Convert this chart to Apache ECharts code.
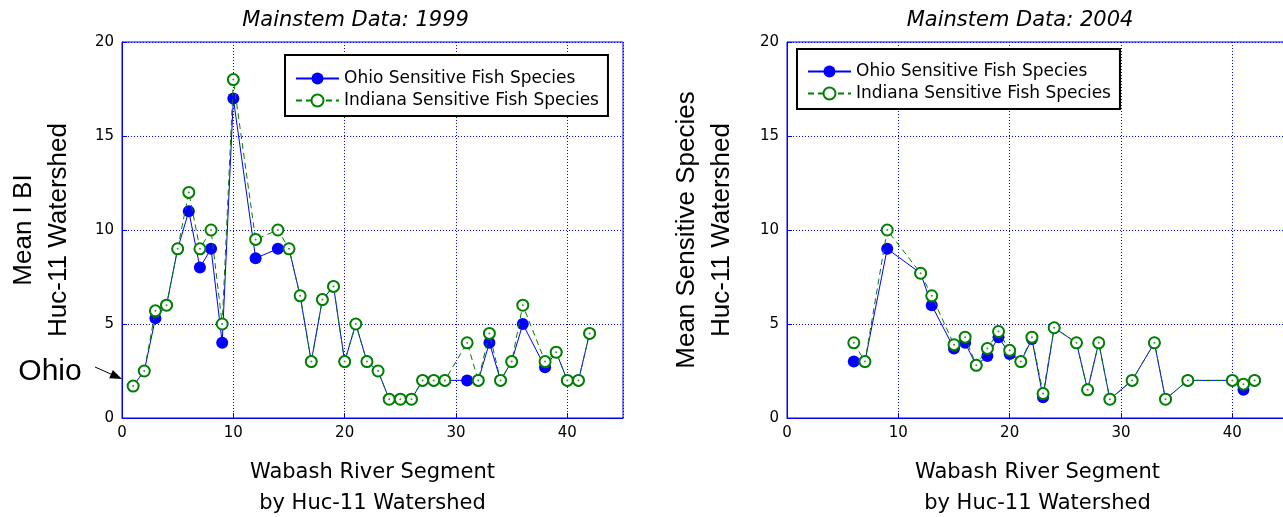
<!DOCTYPE html>
<html>
<head>
<meta charset="utf-8">
<script src="https://cdn.jsdelivr.net/npm/echarts@6/dist/echarts.min.js"></script>
<style>
  html, body { margin: 0; padding: 0; background: #fff; }
  #chart { width: 1283px; height: 517px; }
</style>
</head>
<body>
<div id="chart"></div>
<script>
// River segments sampled in each survey year and the mean counts per segment
const segments1999 = [1, 2, 3, 4, 5, 6, 7, 8, 9, 10, 12, 14, 15, 16, 17, 18, 19, 20, 21, 22, 23, 24, 25, 26, 27, 28, 29, 31, 32, 33, 34, 35, 36, 38, 39, 40, 41, 42];
const ohio1999     = [1.7, 2.5, 5.3, 6, 9, 11, 8, 9, 4, 17, 8.5, 9, 9, 6.5, 3, 6.3, 7, 3, 5, 3, 2.5, 1, 1, 1, 2, 2, 2, 2, 2, 4, 2, 3, 5, 2.7, 3.5, 2, 2, 4.5];
const indiana1999  = [1.7, 2.5, 5.7, 6, 9, 12, 9, 10, 5, 18, 9.5, 10, 9, 6.5, 3, 6.3, 7, 3, 5, 3, 2.5, 1, 1, 1, 2, 2, 2, 4, 2, 4.5, 2, 3, 6, 3, 3.5, 2, 2, 4.5];

const segments2004 = [6, 7, 9, 12, 13, 15, 16, 17, 18, 19, 20, 21, 22, 23, 24, 26, 27, 28, 29, 31, 33, 34, 36, 40, 41, 42];
const ohio2004     = [3, 3, 9, 7.7, 6, 3.7, 4.0, 2.8, 3.3, 4.3, 3.4, 3, 4.2, 1.1, 4.8, 4, 1.5, 4, 1, 2, 4, 1, 2, 2, 1.5, 2];
const indiana2004  = [4, 3, 10, 7.7, 6.5, 3.9, 4.3, 2.8, 3.7, 4.6, 3.6, 3, 4.3, 1.3, 4.8, 4, 1.5, 4, 1, 2, 4, 1, 2, 2, 1.8, 2];

const panelTitles = ['Mainstem Data: 1999', 'Mainstem Data: 2004'];
const yAxisNames  = ['Mean I BI\nHuc-11 Watershed', 'Mean Sensitive Species\nHuc-11 Watershed'];
const xAxisName   = 'Wabash River Segment\nby Huc-11 Watershed';
const seriesNames = ['Ohio Sensitive Fish Species', 'Indiana Sensitive Fish Species'];
const noteText    = 'Ohio';

const BLUE = '#0000ff';
const GREEN = '#008000';
const TICK_FONT = 'DejaVu Sans';

const zip = (xs, ys) => xs.map((x, i) => [x, ys[i]]);

const gridLefts = [122, 787];

function makeGrid(left) {
  return {
    left: left, top: 42, width: 501, height: 376,
    outerBoundsMode: 'none', containLabel: false,
    show: true, borderColor: BLUE, borderWidth: 1, backgroundColor: 'transparent'
  };
}

function makeXAxis(i) {
  return {
    type: 'value', gridIndex: i, min: 0, max: 45, interval: 10,
    axisLine: { show: true, lineStyle: { color: BLUE, width: 1 } },
    axisTick: { show: true, inside: true, length: 5, lineStyle: { color: BLUE } },
    axisLabel: { color: '#000', fontFamily: TICK_FONT, fontSize: 15, margin: 8, showMaxLabel: false },
    splitLine: { show: true, lineStyle: { color: BLUE, width: 1, type: [1, 2] } },
    name: xAxisName, nameLocation: 'middle', nameGap: 39,
    nameTextStyle: { color: '#000', fontFamily: TICK_FONT, fontSize: 21, lineHeight: 31 }
  };
}

function makeYAxis(i, gap) {
  return {
    type: 'value', gridIndex: i, min: 0, max: 20, interval: 5,
    axisLine: { show: true, lineStyle: { color: BLUE, width: 1 } },
    axisTick: { show: true, inside: true, length: 5, lineStyle: { color: BLUE } },
    axisLabel: { color: '#000', fontFamily: TICK_FONT, fontSize: 15, margin: 8 },
    splitLine: { show: true, lineStyle: { color: BLUE, width: 1, type: [1, 2] } },
    name: yAxisNames[i], nameLocation: 'middle', nameRotate: 90, nameGap: gap,
    nameTextStyle: { color: '#000', fontFamily: 'Liberation Sans', fontSize: 26, lineHeight: 35 }
  };
}

function ohioSeries(i, data) {
  return {
    name: seriesNames[0], type: 'line', xAxisIndex: i, yAxisIndex: i, data: data,
    symbol: 'circle', symbolSize: 12,
    lineStyle: { color: BLUE, width: 1 },
    itemStyle: { color: BLUE, borderWidth: 0 },
    emphasis: { disabled: true }, z: 2
  };
}

function indianaSeries(i, data) {
  return {
    name: seriesNames[1], type: 'line', xAxisIndex: i, yAxisIndex: i, data: data,
    symbol: 'emptyCircle', symbolSize: 11,
    lineStyle: { color: GREEN, width: 1, type: [6, 4] },
    itemStyle: { color: GREEN, borderColor: GREEN, borderWidth: 1 },
    emphasis: { disabled: true }, z: 3
  };
}

// centre dots inside the open Indiana markers
function indianaDots(i, data) {
  return {
    type: 'scatter', xAxisIndex: i, yAxisIndex: i, data: data,
    symbol: 'circle', symbolSize: 2, silent: true,
    itemStyle: { color: GREEN }, z: 4
  };
}

function makeLegend(left, top, padTop) {
  return {
    left: left, top: top, orient: 'vertical', data: seriesNames,
    padding: [padTop, 9, 7, 10], itemGap: 5, itemWidth: 43, itemHeight: 15,
    borderColor: '#000', borderWidth: 2, backgroundColor: '#fff',
    selectedMode: false,
    textStyle: { color: '#000', fontFamily: TICK_FONT, fontSize: 17 }
  };
}

// arrow from the "Ohio" note to the left axis
const arrowFrom = [95, 367];
const arrowTo = [122, 379];
const dx = arrowTo[0] - arrowFrom[0], dy = arrowTo[1] - arrowFrom[1];
const len = Math.hypot(dx, dy);
const ux = dx / len, uy = dy / len;
const headL = 12, headW = 4.5;
const bx = arrowTo[0] - headL * ux, by = arrowTo[1] - headL * uy;

const chart = echarts.init(document.getElementById('chart'), null, { renderer: 'canvas' });
const d1999o = zip(segments1999, ohio1999), d1999i = zip(segments1999, indiana1999);
const d2004o = zip(segments2004, ohio2004), d2004i = zip(segments2004, indiana2004);
chart.setOption({
  backgroundColor: '#fff',
  animation: false,
  grid: gridLefts.map(makeGrid),
  xAxis: [makeXAxis(0), makeXAxis(1)],
  yAxis: [makeYAxis(0, 46), makeYAxis(1, 48)],
  legend: [makeLegend(285, 55, 15), makeLegend(797, 49, 14)],
  series: [
    ohioSeries(0, d1999o),
    indianaSeries(0, d1999i),
    indianaDots(0, d1999i),
    ohioSeries(1, d2004o),
    indianaSeries(1, d2004i),
    indianaDots(1, d2004i)
  ],
  graphic: [
    { type: 'text', x: 355.5, y: 21,
      style: { text: panelTitles[0], font: 'oblique 21px "DejaVu Sans"', fill: '#000', align: 'center', verticalAlign: 'middle' } },
    { type: 'text', x: 1020, y: 21,
      style: { text: panelTitles[1], font: 'oblique 21px "DejaVu Sans"', fill: '#000', align: 'center', verticalAlign: 'middle' } },
    { type: 'text', x: 50, y: 372,
      style: { text: noteText, font: '30px "Liberation Sans"', fill: '#000', align: 'center', verticalAlign: 'middle' } },
    { type: 'line', shape: { x1: arrowFrom[0], y1: arrowFrom[1], x2: bx, y2: by },
      style: { stroke: '#000', lineWidth: 1 } },
    { type: 'polygon',
      shape: { points: [arrowTo, [bx - headW * uy, by + headW * ux], [bx + headW * uy, by - headW * ux]] },
      style: { fill: '#000' } }
  ]
});
</script>
</body>
</html>
